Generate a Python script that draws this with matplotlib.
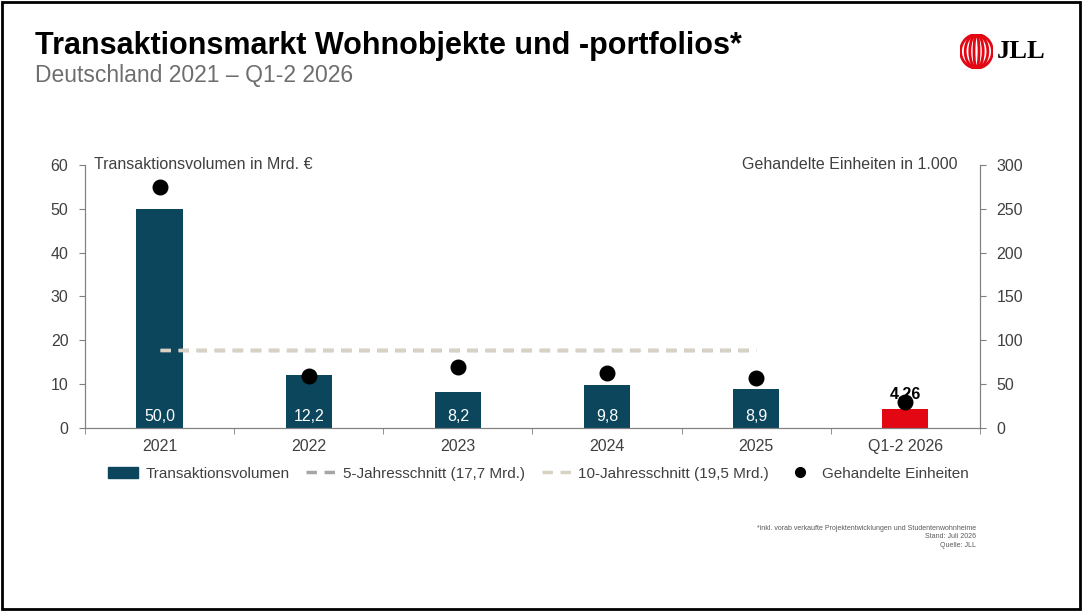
import matplotlib.pyplot as plt
from matplotlib.patches import Ellipse, Rectangle
from matplotlib.lines import Line2D

plt.rcParams['font.family'] = ['Liberation Sans', 'DejaVu Sans']

# Daten
kategorien = ["2021", "2022", "2023", "2024", "2025", "Q1-2 2026"]
volumen = [50.0, 12.2, 8.2, 9.8, 8.9, 4.26]
volumen_labels = ["50,0", "12,2", "8,2", "9,8", "8,9", "4,26"]
einheiten = [275, 59, 70, 63, 57, 30]
schnitt_5 = 17.7
schnitt_10 = 17.7  # im Bild deckungsgleich mit 5-Jahresschnitt

DUNKEL = "#0B465C"
ROT = "#E30613"
GRAU = "#A6A6A6"
BEIGE = "#D8D2C4"
TEXT = "#404040"

fig = plt.figure(figsize=(10.82, 6.11), dpi=100)

# Rahmen
fig.patches.append(Rectangle((0.002, 0.003), 0.996, 0.994, transform=fig.transFigure,
                             fill=False, edgecolor="black", linewidth=2))

fig.text(0.032, 0.925, "Transaktionsmarkt Wohnobjekte und -portfolios*",
         fontsize=22, fontweight="bold", color="black", va="center")
fig.text(0.032, 0.877, "Deutschland 2021 \u2013 Q1-2 2026",
         fontsize=16.5, color="#6E6E6E", va="center")

# JLL Logo
logo = fig.add_axes([0.887, 0.887, 0.031, 0.058])
logo.set_xlim(-1, 1)
logo.set_ylim(-1, 1)
logo.axis("off")
for w in [1.9, 1.35, 0.8, 0.3]:
    logo.add_patch(Ellipse((0, 0), w, 1.9, fill=False, edgecolor=ROT, linewidth=2.0))
fig.text(0.921, 0.915, "JLL", fontsize=19, fontweight="bold", family="Liberation Serif",
         va="center", ha="left")

ax = fig.add_axes([0.0786, 0.2995, 0.827, 0.4305])
x = list(range(len(kategorien)))
farben = [DUNKEL] * 5 + [ROT]
ax.bar(x, volumen, width=0.31, color=farben, zorder=2)

for i, (v, lab) in enumerate(zip(volumen, volumen_labels)):
    if i < 5:
        ax.text(i, 2.6, lab, ha="center", va="center", color="white", fontsize=11.5, zorder=3)
    else:
        ax.text(i, v + 3.5, lab, ha="center", va="center", color="black",
                fontsize=11.5, fontweight="bold", zorder=5)

ax.plot([0, 4], [schnitt_5, schnitt_5], color=GRAU, linestyle=(0, (3, 2.2)), linewidth=2.5, zorder=3)
ax.plot([0, 4], [schnitt_10, schnitt_10], color=BEIGE, linestyle=(0, (3, 2.2)), linewidth=2.5, zorder=3)

ax.set_xlim(-0.5, 5.5)
ax.set_ylim(0, 60)
ax.set_yticks(range(0, 61, 10))
ax.set_xticks(x)
ax.set_xticklabels(kategorien)
ax.set_xticks([i + 0.5 for i in range(-1, 6)], minor=True)
ax.tick_params(axis="x", which="major", length=0, labelsize=11.5, labelcolor=TEXT, pad=8)
ax.tick_params(axis="x", which="minor", length=4, color="#808080", direction="out")
ax.tick_params(axis="y", length=4, color="#808080", labelsize=11.5, labelcolor=TEXT, pad=8)
ax.spines["top"].set_visible(False)
for s in ["left", "bottom", "right"]:
    ax.spines[s].set_color("#808080")

ax2 = ax.twinx()
ax2.scatter(x, einheiten, s=110, color="black", zorder=4)
ax2.set_ylim(0, 300)
ax2.set_yticks(range(0, 301, 50))
ax2.tick_params(axis="y", length=4, color="#808080", labelsize=11.5, labelcolor=TEXT, pad=8)
ax2.spines["top"].set_visible(False)
for s in ["left", "bottom", "right"]:
    ax2.spines[s].set_color("#808080")

ax.text(0.01, 1.0, "Transaktionsvolumen in Mrd. \u20ac", transform=ax.transAxes,
        fontsize=11.5, color=TEXT, va="center", ha="left")
ax.text(0.975, 1.0, "Gehandelte Einheiten in 1.000", transform=ax.transAxes,
        fontsize=11.5, color=TEXT, va="center", ha="right")

handles = [
    Rectangle((0, 0), 1, 1, color=DUNKEL),
    Line2D([], [], color=GRAU, linestyle=(0, (3, 2.2)), linewidth=2.5),
    Line2D([], [], color=BEIGE, linestyle=(0, (3, 2.2)), linewidth=2.5),
    Line2D([], [], color="black", marker="o", linestyle="none", markersize=7),
]
labels = ["Transaktionsvolumen", "5-Jahresschnitt (17,7 Mrd.)",
          "10-Jahresschnitt (19,5 Mrd.)", "Gehandelte Einheiten"]
leg = fig.legend(handles, labels, loc="center", bbox_to_anchor=(0.498, 0.225), ncol=4,
                 frameon=False, fontsize=11, handlelength=1.9, handletextpad=0.5,
                 columnspacing=1.1, labelcolor=TEXT)

fig.text(0.902, 0.141, "*inkl. vorab verkaufte Projektentwicklungen und Studentenwohnheime\nStand: Juli 2026\nQuelle: JLL",
         fontsize=5.0, color="#595959", ha="right", va="top", multialignment="right",
         linespacing=1.3)

fig.savefig("out.png", dpi=100)
